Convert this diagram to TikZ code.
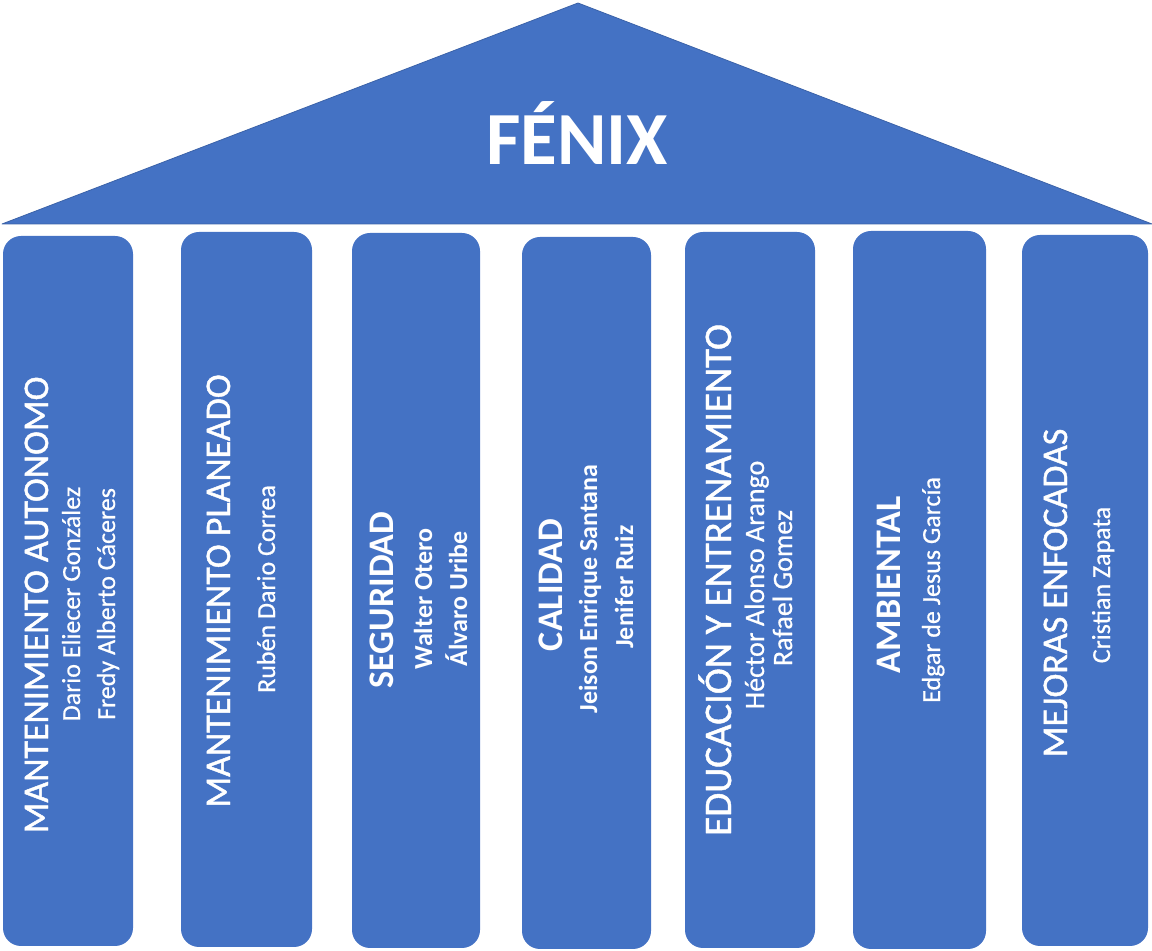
\documentclass[tikz,border=0pt]{standalone}
\usepackage{fontspec}
\setmainfont{Carlito}
\newfontfamily\heavyreg[FakeBold=1.2]{Carlito}
\newfontfamily\semireg[FakeBold=0.6]{Carlito}
\definecolor{officeblue}{HTML}{4472C4}
\definecolor{edgeblue}{HTML}{3B62A8}
\tikzset{
  pillar/.style={fill=officeblue, draw=none, rounded corners=18pt, inner sep=0pt},
  roof/.style={fill=officeblue, draw=edgeblue, line width=0.8pt, line join=round},
  ptitle/.style={text=white, inner sep=0pt, anchor=base, rotate=90, font=\heavyreg\fontsize{36}{40}\selectfont},
  pname/.style={text=white, inner sep=0pt, anchor=base, rotate=90, font=\semireg\fontsize{26}{30}\selectfont},
  btitle/.style={ptitle, font=\fontsize{36}{40}\selectfont\bfseries},
  bname/.style={pname, font=\fontsize{26}{30}\selectfont\bfseries},
  fenix/.style={text=white, inner sep=0pt, anchor=base, font=\fontsize{75}{80}\selectfont\bfseries}
}
\begin{document}
\begin{tikzpicture}[x=1pt,y=1pt]
\useasboundingbox (0,0) rectangle (1152,951);
% roof
\path[roof] (2,727) coordinate (rl) -- (578,948) coordinate (apex) -- (1152,727) coordinate (rr) -- cycle;
\node[fenix] (fenix) at (577,786) {FÉNIX};
% pillars
\node[pillar, minimum width=130pt, minimum height=710pt] (p1) at (68,360) {};
\node[pillar, minimum width=131pt, minimum height=715pt] (p2) at (246.5,361.5) {};
\node[pillar, minimum width=128pt, minimum height=715pt] (p3) at (416,360.5) {};
\node[pillar, minimum width=129pt, minimum height=712pt] (p4) at (586.5,358) {};
\node[pillar, minimum width=130pt, minimum height=716pt] (p5) at (750,361) {};
\node[pillar, minimum width=133pt, minimum height=718pt] (p6) at (919.5,361) {};
\node[pillar, minimum width=126pt, minimum height=711pt] (p7) at (1085,360.5) {};
% pillar 1
\node[ptitle] (t1) at (48,346) {MANTENIMIENTO AUTONOMO};
\node[pname] (n1a) at (80,347) {Dario Eliecer González};
\node[pname] (n1b) at (115,347) {Fredy Alberto Cáceres};
% pillar 2
\node[ptitle] (t2) at (230,360) {MANTENIMIENTO PLANEADO};
\node[pname] (n2a) at (275,362) {Rubén Dario Correa};
% pillar 3
\node[btitle] (t3) at (393,351) {SEGURIDAD};
\node[bname] (n3a) at (432,352) {Walter Otero};
\node[bname] (n3b) at (467,352) {Álvaro Uribe};
% pillar 4
\node[btitle] (t4) at (562,366) {CALIDAD};
\node[bname] (n4a) at (597,362) {Jeison Enrique Santana};
\node[bname] (n4b) at (633,364) {Jenifer Ruiz};
% pillar 5
\node[ptitle, font=\heavyreg\fontsize{39}{42}\selectfont] (t5) at (731,371) {EDUCACIÓN Y ENTRENAMIENTO};
\node[pname, font=\semireg\fontsize{28}{30}\selectfont] (n5a) at (764,366) {Héctor Alonso Arango};
\node[pname, font=\semireg\fontsize{28}{30}\selectfont] (n5b) at (792,363) {Rafael Gomez};
% pillar 6
\node[btitle] (t6) at (900,366) {AMBIENTAL};
\node[pname] (n6a) at (940,361) {Edgar de Jesus García};
% pillar 7
\node[ptitle] (t7) at (1067,358) {MEJORAS ENFOCADAS};
\node[pname] (n7a) at (1110,366) {Cristian Zapata};
\end{tikzpicture}
\end{document}
